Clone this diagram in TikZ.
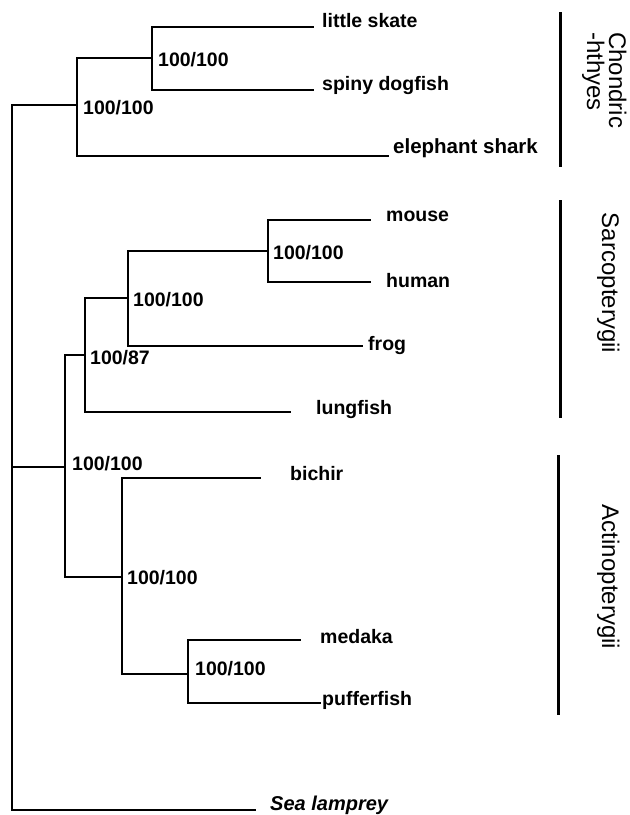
\documentclass[tikz,border=0pt]{standalone}
\usepackage{fontspec}
\setmainfont{Liberation Sans}

\begin{document}
\begin{tikzpicture}[x=1pt,y=-1pt,
  branch/.style={line width=1.8pt,line cap=rect},
  bar/.style={line width=3pt},
  tip/.style={anchor=mid west,inner sep=0pt,font=\fontsize{19.5}{22}\selectfont\bfseries},
  boot/.style={anchor=west,inner sep=0pt,font=\fontsize{19.5}{22}\selectfont\bfseries},
  clade/.style={rotate=-90,inner sep=0pt,font=\fontsize{24}{28}\selectfont}]
  \useasboundingbox (0,0) rectangle (630,815);
  \coordinate (root) at (12,467);
  \coordinate (chon) at (77,105);
  \coordinate (elas) at (152,58);
  \coordinate (oste) at (65,467);
  \coordinate (sarc) at (85,355);
  \coordinate (tetr) at (128,298);
  \coordinate (mamm) at (268,251);
  \coordinate (acti) at (122,577);
  \coordinate (tele) at (188,674);
  \coordinate (skateE) at (313,27);
  \coordinate (dogfishE) at (313,90);
  \coordinate (elephantE) at (388,156);
  \coordinate (mouseE) at (370,220);
  \coordinate (humanE) at (370,282);
  \coordinate (frogE) at (362,346);
  \coordinate (lungfishE) at (290,412);
  \coordinate (bichirE) at (260,478);
  \coordinate (medakaE) at (300,640);
  \coordinate (pufferE) at (320,703);
  \coordinate (lampreyE) at (255,810);
  \draw[branch] (root) |- (chon);
  \draw[branch] (root) |- (oste);
  \draw[branch] (root) |- (lampreyE);
  \draw[branch] (chon) |- (elas);
  \draw[branch] (chon) |- (elephantE);
  \draw[branch] (elas) |- (skateE);
  \draw[branch] (elas) |- (dogfishE);
  \draw[branch] (oste) |- (sarc);
  \draw[branch] (oste) |- (acti);
  \draw[branch] (sarc) |- (tetr);
  \draw[branch] (sarc) |- (lungfishE);
  \draw[branch] (tetr) |- (mamm);
  \draw[branch] (tetr) |- (frogE);
  \draw[branch] (mamm) |- (mouseE);
  \draw[branch] (mamm) |- (humanE);
  \draw[branch] (acti) |- (bichirE);
  \draw[branch] (acti) |- (tele);
  \draw[branch] (tele) |- (medakaE);
  \draw[branch] (tele) |- (pufferE);
  \node[tip] (skate) at (322,25) {little skate};
  \node[tip] (dogfish) at (322,88) {spiny dogfish};
  \node[tip,font=\fontsize{20.5}{22}\selectfont\bfseries] (elephant) at (393,151) {elephant shark};
  \node[tip] (mouse) at (386,219) {mouse};
  \node[tip] (human) at (386,285) {human};
  \node[tip] (frog) at (368,348) {frog};
  \node[tip] (lungfish) at (316,412) {lungfish};
  \node[tip] (bichir) at (290,478) {bichir};
  \node[tip] (medaka) at (320,641) {medaka};
  \node[tip] (puffer) at (322,703) {pufferfish};
  \node[tip,font=\fontsize{20}{22}\selectfont\bfseries\itshape] (lamprey) at (270,808) {Sea lamprey};
  \node[boot] (bElas) at (158,60) {100/100};
  \node[boot] (bChon) at (83,108) {100/100};
  \node[boot] (bMamm) at (273,253) {100/100};
  \node[boot] (bTetr) at (133,300) {100/100};
  \node[boot] (bSarc) at (90,358) {100/87};
  \node[boot] (bOste) at (72,464) {100/100};
  \node[boot] (bActi) at (127,578) {100/100};
  \node[boot] (bTele) at (195,669) {100/100};
  \draw[bar] (560,12) -- (560,167);
  \draw[bar] (560,200) -- (560,418);
  \draw[bar] (558,455) -- (558,715);
  \node[clade,anchor=base west] (chondA) at (609,32) {Chondric};
  \node[clade,anchor=base west] (chondB) at (587,32) {-hthyes};
  \node[clade,anchor=base] (sarco) at (602,283) {Sarcopterygii};
  \node[clade,anchor=base] (actino) at (602,577) {Actinopterygii};
\end{tikzpicture}
\end{document}
